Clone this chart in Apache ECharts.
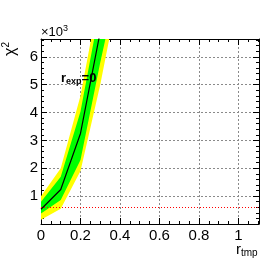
<!DOCTYPE html>
<html>
<head>
<meta charset="utf-8">
<script src="https://cdn.jsdelivr.net/npm/echarts@6/dist/echarts.min.js"></script>
<style>
html,body{margin:0;padding:0;background:#fff;}
#chart{width:273px;height:264px;}
</style>
</head>
<body>
<div id="chart"></div>
<script>
// ---- data ----
const rValues      = [0, 0.1, 0.2, 0.3, 0.4];
const chi2Central  = [530, 1240, 3250, 6900, 11000];
const green68Low   = [380, 860, 2300, 5800, 9000];
const green68High  = [800, 1700, 4040, 7800, 12500];
const yellow95Low  = [150, 550, 1900, 5000, 8600];
const yellow95High = [1000, 2000, 4600, 8400, 13500];
const chi2Threshold = 607;
const xTickLabels = ['0', '0.2', '0.4', '0.6', '0.8', '1'];
const yTickLabels = ['1', '2', '3', '4', '5', '6'];

const X_MIN = 0, X_MAX = 1.104, Y_MIN = 0, Y_MAX = 6640;
const FONT = '"Liberation Sans", Arial, sans-serif';

function pairs(ys) { return rValues.map((x, i) => [x, ys[i]]); }

const chart = echarts.init(document.getElementById('chart'), null, {renderer: 'canvas'});

const gridLine = {show: true, lineStyle: {color: '#8a8a8a', type: [2, 2], width: 1}};
const frameLine = {show: true, onZero: false, lineStyle: {color: '#000', width: 1}};

function xFmt(v) {
  const i = Math.round(v / 0.2);
  return Math.abs(v - i * 0.2) < 1e-6 && xTickLabels[i] !== undefined ? xTickLabels[i] : '';
}
function yFmt(v) {
  const i = Math.round(v / 1000) - 1;
  return Math.abs(v - (i + 1) * 1000) < 1e-6 && yTickLabels[i] !== undefined ? yTickLabels[i] : '';
}

function bandSeries(lo, hi, color, z) {
  return {
    type: 'custom', z: z, silent: true, clip: true,
    data: rValues.map((x, i) => [x, lo[i], hi[i]]),
    encode: {x: 0, y: [1, 2]},
    renderItem: function (params, api) {
      if (params.dataIndex !== 0) return null;
      const pts = [];
      for (let i = 0; i < rValues.length; i++) pts.push(api.coord([rValues[i], hi[i]]));
      for (let i = rValues.length - 1; i >= 0; i--) pts.push(api.coord([rValues[i], lo[i]]));
      const cs = params.coordSys;
      return {
        type: 'polygon',
        shape: {points: pts},
        style: {fill: color, stroke: null},
        clipPath: {type: 'rect', shape: {x: cs.x, y: cs.y, width: cs.width, height: cs.height}}
      };
    }
  };
}

const option = {
  animation: false,
  backgroundColor: '#fff',
  grid: {left: 41, right: 14, top: 39, bottom: 40, containLabel: false, outerBoundsMode: 'none'},
  xAxis: [
    {type: 'value', min: X_MIN, max: X_MAX, interval: 0.2, position: 'bottom',
     axisLine: frameLine,
     axisTick: {show: true, inside: true, length: 6, lineStyle: {color: '#000'}},
     minorTick: {show: true, splitNumber: 4, length: 3, lineStyle: {color: '#000'}},
     splitLine: gridLine,
     axisLabel: {formatter: xFmt, showMaxLabel: false, color: '#000', fontSize: 15, fontFamily: FONT, margin: 4}},
    {type: 'value', min: X_MIN, max: X_MAX, interval: 0.2, position: 'top',
     axisLine: frameLine,
     axisTick: {show: true, inside: true, length: 6, lineStyle: {color: '#000'}},
     minorTick: {show: true, splitNumber: 4, length: 3, lineStyle: {color: '#000'}},
     splitLine: {show: false}, axisLabel: {show: false}}
  ],
  yAxis: [
    {type: 'value', min: Y_MIN, max: Y_MAX, interval: 1000, position: 'left',
     axisLine: frameLine,
     axisTick: {show: true, inside: true, length: 6, lineStyle: {color: '#000'}},
     minorTick: {show: true, splitNumber: 5, length: 3, lineStyle: {color: '#000'}},
     splitLine: gridLine,
     axisLabel: {formatter: yFmt, showMinLabel: false, showMaxLabel: false, color: '#000', fontSize: 15, fontFamily: FONT, margin: 3}},
    {type: 'value', min: Y_MIN, max: Y_MAX, interval: 1000, position: 'right',
     axisLine: frameLine,
     axisTick: {show: true, inside: true, length: 6, lineStyle: {color: '#000'}},
     minorTick: {show: true, splitNumber: 5, length: 3, lineStyle: {color: '#000'}},
     splitLine: {show: false}, axisLabel: {show: false}}
  ],
  series: [
    bandSeries(yellow95Low, yellow95High, '#ffff00', 1),
    bandSeries(green68Low, green68High, '#00ff00', 2),
    {type: 'line', data: pairs(chi2Central), symbol: 'none', clip: true,
     lineStyle: {color: '#000', width: 1.2}, z: 4,
     markLine: {silent: true, symbol: 'none', label: {show: false},
       lineStyle: {color: '#ff0000', type: [1, 2], width: 1},
       data: [{yAxis: chi2Threshold}]}}
  ],
  graphic: [
    {type: 'text', left: 41, top: 24, z: 10,
     style: {text: '×10{s|3}', fill: '#000', font: '13px ' + FONT,
       rich: {s: {fontSize: 9, verticalAlign: 'top', padding: [0, 0, 7, 0], fontFamily: FONT}}}},
    {type: 'text', x: 20, y: 56, rotation: Math.PI / 2, z: 10,
     style: {text: 'χ{s|2}', fill: '#000', font: '16px ' + FONT, verticalAlign: 'bottom',
       rich: {s: {fontSize: 10, padding: [0, 0, 9, 0], fontFamily: FONT}}}},
    {type: 'text', x: 61, y: 86, z: 10,
     style: {text: '{m|r}{s|exp}{m|=0}', fill: '#000', verticalAlign: 'bottom',
       rich: {m: {fontSize: 13, fontWeight: 'bold', fontFamily: FONT},
              s: {fontSize: 9, fontWeight: 'bold', fontFamily: FONT, padding: [6, 0, 0, 0]}}}},
    {type: 'text', x: 236, y: 258, z: 10,
     style: {text: '{m|r}{s|tmp}', fill: '#000', verticalAlign: 'bottom',
       rich: {m: {fontSize: 15, fontFamily: FONT},
              s: {fontSize: 10, fontFamily: FONT, padding: [7, 0, 0, 0]}}}}
  ]
};
chart.setOption(option);
</script>
</body>
</html>
